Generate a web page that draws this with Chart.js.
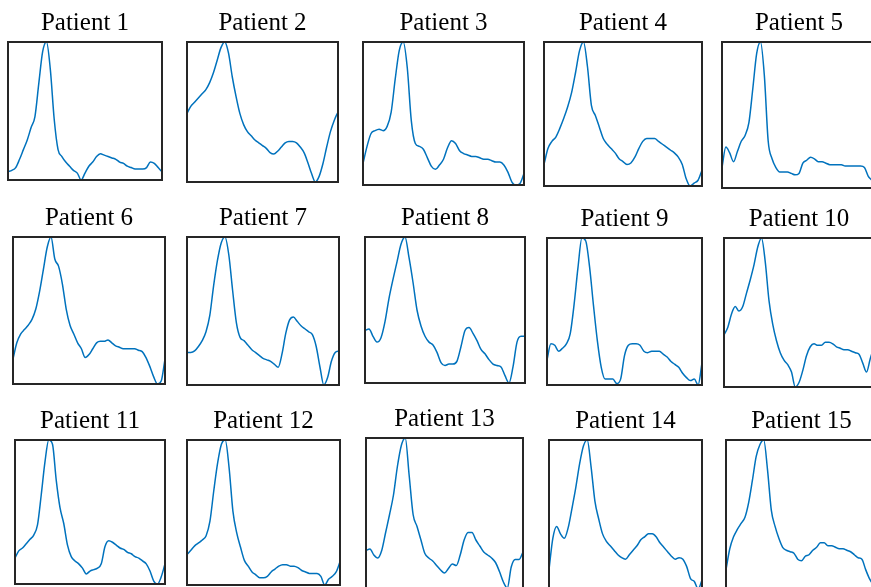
<!DOCTYPE html>
<html>
<head>
<meta charset="utf-8">
<script src="https://cdn.jsdelivr.net/npm/chart.js@4.4.1/dist/chart.umd.min.js"></script>
<style>
    html, body { margin: 0; padding: 0; width: 871px; height: 587px; overflow: hidden; background: #fff; }
    canvas { position: absolute; }
</style>
</head>
<body>
<script>
// --- Datos (amplitud normalizada 0-100) ---
const sampleIndex = [0, 1, 2, 3, 4, 5, 6, 7, 8, 9, 10, 11, 12, 13, 14, 15, 16, 17, 18, 19, 20,
    21, 22, 23, 24, 25, 26, 27, 28, 29, 30, 31, 32, 33, 34, 35, 36, 37, 38, 39, 40];

const patientNames = ['Patient 1', 'Patient 2', 'Patient 3', 'Patient 4', 'Patient 5',
    'Patient 6', 'Patient 7', 'Patient 8', 'Patient 9', 'Patient 10',
    'Patient 11', 'Patient 12', 'Patient 13', 'Patient 14', 'Patient 15'];

const patient1 = [6, 7, 9, 15, 22, 29, 38, 46, 70, 93, 100, 80, 44, 22, 17, 13, 10, 7, 5, 0, 5, 10, 13, 17, 19, 18, 17, 16, 15, 13, 12, 10, 9, 8, 8, 8, 9, 13, 12, 9, 6];
const patient2 = [49, 54, 57, 60, 63, 66, 71, 78, 87, 96, 100, 92, 75, 61, 49, 41, 36, 33, 30, 28, 26, 24, 21, 20, 22, 25, 28, 29, 29, 28, 25, 21, 14, 6, 0, 4, 13, 25, 36, 44, 50];
const patient3 = [15, 27, 36, 38, 39, 38, 41, 51, 74, 94, 100, 82, 45, 29, 27, 25, 19, 13, 11, 14, 18, 26, 31, 29, 24, 22, 21, 20, 20, 19, 18, 18, 17, 16, 16, 14, 9, 2, 0, 1, 8];
const patient4 = [15, 26, 31, 34, 40, 47, 55, 65, 79, 94, 100, 83, 56, 49, 41, 33, 29, 26, 23, 19, 17, 15, 16, 20, 26, 31, 33, 33, 33, 31, 29, 27, 25, 23, 20, 15, 5, 0, 2, 4, 11];
const patient5 = [14, 28, 24, 18, 25, 32, 36, 45, 68, 92, 100, 77, 32, 20, 14, 11, 11, 11, 10, 9, 10, 17, 19, 21, 20, 18, 18, 17, 16, 16, 16, 16, 15, 15, 15, 15, 15, 14, 8, 5, 0];
const patient6 = [17, 28, 34, 37, 40, 44, 51, 63, 78, 93, 100, 85, 80, 68, 51, 40, 34, 28, 24, 18, 20, 24, 28, 29, 29, 30, 28, 26, 25, 24, 24, 24, 24, 23, 22, 18, 12, 5, 0, 2, 17];
const patient7 = [22, 22, 23, 26, 30, 36, 47, 67, 84, 96, 100, 88, 64, 42, 32, 30, 27, 24, 22, 20, 18, 17, 16, 14, 12, 21, 35, 44, 46, 43, 40, 38, 36, 34, 26, 12, 0, 5, 16, 22, 23];
const patient8 = [36, 37, 32, 28, 31, 42, 58, 71, 83, 95, 100, 86, 69, 50, 39, 32, 28, 26, 21, 14, 12, 13, 13, 15, 25, 36, 38, 34, 29, 23, 20, 16, 13, 12, 11, 5, 0, 11, 28, 32, 32];
const patient9 = [17, 28, 27, 23, 25, 28, 35, 55, 80, 100, 98, 80, 54, 30, 12, 4, 4, 4, 1, 4, 20, 27, 28, 28, 27, 23, 22, 23, 23, 23, 21, 19, 16, 14, 12, 8, 5, 3, 4, 0, 15];
const patient10 = [35, 40, 49, 54, 51, 54, 63, 72, 82, 94, 100, 84, 58, 42, 31, 23, 18, 15, 10, 0, 3, 11, 21, 27, 29, 28, 28, 30, 30, 29, 27, 26, 25, 25, 24, 23, 22, 16, 10, 19, 27];
const patient11 = [18, 23, 25, 28, 31, 34, 41, 62, 85, 100, 97, 72, 53, 42, 27, 19, 16, 14, 11, 7, 9, 10, 11, 14, 26, 30, 29, 27, 25, 24, 22, 21, 19, 18, 16, 14, 9, 2, 0, 5, 14];
const patient12 = [21, 24, 27, 29, 31, 34, 44, 65, 84, 97, 100, 81, 51, 36, 26, 17, 13, 9, 7, 5, 5, 6, 9, 11, 13, 14, 14, 13, 13, 12, 10, 9, 8, 8, 8, 6, 0, 4, 6, 9, 16];
const patient13 = [25, 26, 22, 20, 25, 37, 49, 62, 81, 95, 100, 75, 49, 41, 32, 23, 20, 18, 15, 12, 10, 13, 16, 15, 22, 32, 37, 37, 32, 28, 24, 22, 20, 17, 11, 4, 0, 14, 19, 19, 24];
const patient14 = [13, 34, 42, 37, 34, 41, 54, 68, 84, 96, 100, 82, 59, 47, 37, 32, 29, 26, 23, 21, 20, 23, 26, 29, 33, 35, 37, 37, 35, 31, 28, 25, 22, 20, 21, 20, 15, 7, 5, 0, 6];
const patient15 = [13, 27, 35, 40, 44, 48, 58, 73, 89, 97, 100, 80, 53, 42, 34, 28, 26, 25, 24, 20, 19, 22, 23, 26, 28, 31, 31, 29, 29, 28, 27, 27, 26, 25, 23, 21, 20, 13, 7, 3, 0];

const patientSeries = [patient1, patient2, patient3, patient4, patient5,
    patient6, patient7, patient8, patient9, patient10,
    patient11, patient12, patient13, patient14, patient15];

// --- Posición de cada recuadro en la página: [izq, arriba, der, abajo] ---
const panelBoxes = [
    [8, 42, 162, 180], [187, 42, 338, 182], [363, 42, 524, 185], [544, 42, 702, 186], [722, 42, 876, 188],
    [13, 237, 165, 384], [187, 237, 339, 385], [365, 237, 525, 383], [547, 238, 702, 385], [724, 238, 874, 387],
    [15, 440, 165, 584], [187, 440, 340, 585], [366, 438, 523, 588], [549, 440, 702, 589], [726, 440, 877, 589]
];

const TITLE_BLOCK = 34; // alto del título (30) + padding inferior (4)
const PAD = 2;

// Plugin para dibujar el marco alrededor del área del gráfico
const boxFrame = {
    id: 'boxFrame',
    afterDraw(chart) {
        const { left, top, width, height } = chart.chartArea;
        const ctx = chart.ctx;
        ctx.save();
        ctx.strokeStyle = '#262626';
        ctx.lineWidth = 2;
        ctx.strokeRect(left, top, width, height);
        ctx.restore();
    }
};

patientSeries.forEach((series, i) => {
    const [l, t, r, b] = panelBoxes[i];
    const canvas = document.createElement('canvas');
    canvas.width = r - l + PAD * 2;
    canvas.height = b - t + TITLE_BLOCK + PAD;
    canvas.style.left = (l - PAD) + 'px';
    canvas.style.top = (t - TITLE_BLOCK) + 'px';
    document.body.appendChild(canvas);

    new Chart(canvas.getContext('2d'), {
        type: 'line',
        data: {
            labels: sampleIndex,
            datasets: [{
                data: series,
                borderColor: '#0072BD',
                borderWidth: 1.5,
                pointRadius: 0,
                fill: false,
                cubicInterpolationMode: 'monotone'
            }]
        },
        options: {
            responsive: false,
            animation: false,
            layout: { padding: { left: PAD, right: PAD, top: 0, bottom: PAD } },
            plugins: {
                legend: { display: false },
                tooltip: { enabled: false },
                title: {
                    display: true,
                    text: patientNames[i],
                    color: '#000',
                    font: { family: 'Liberation Serif', size: 25, weight: 'normal', lineHeight: 1.2 },
                    padding: { top: 0, bottom: 4 }
                }
            },
            scales: {
                x: { display: false },
                y: { display: false, min: 0, max: 100 }
            }
        },
        plugins: [boxFrame]
    });
});
</script>
</body>
</html>
